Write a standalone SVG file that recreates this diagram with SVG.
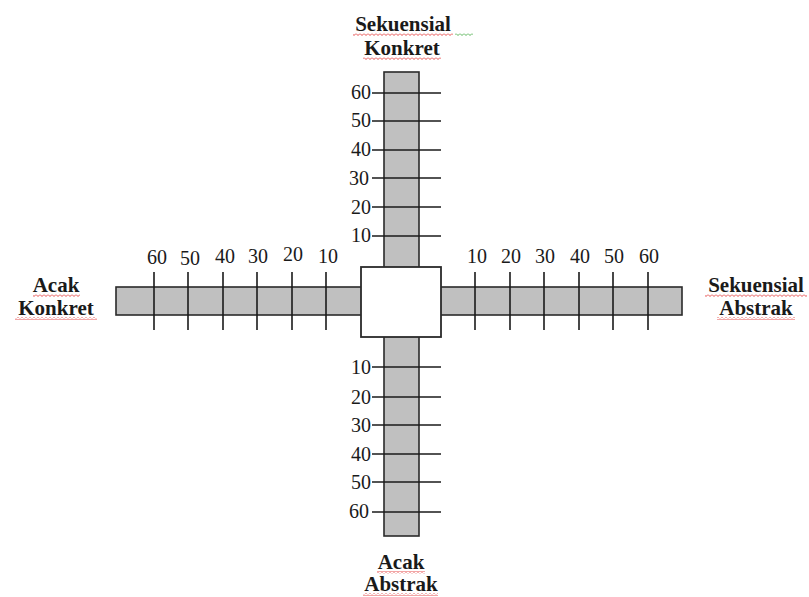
<svg xmlns="http://www.w3.org/2000/svg" width="809" height="597" viewBox="0 0 809 597">
<style>
.bar{fill:#c0c0c0;stroke:#2a2a2a;stroke-width:1.6}
.box{fill:#ffffff;stroke:#2a2a2a;stroke-width:1.8}
.tick{stroke:#1a1a1a;stroke-width:1.6}
.num{font-family:"Liberation Serif",serif;font-size:20px;fill:#1a1a1a}
.lbl{font-family:"Liberation Serif",serif;font-size:21px;font-weight:bold;fill:#1a1a1a;text-anchor:middle}
.sq{fill:url(#squig)}
.sqg{fill:url(#squigG)}
</style>
<defs>
<pattern id="squig" width="4" height="3" patternUnits="userSpaceOnUse">
<path d="M0,0.5 L2,2.5 L4,0.5" fill="none" stroke="#e02020" stroke-width="0.8"/>
</pattern>
<pattern id="squigG" width="4" height="3" patternUnits="userSpaceOnUse">
<path d="M0,0.5 L2,2.5 L4,0.5" fill="none" stroke="#30a030" stroke-width="0.8"/>
</pattern>
</defs>
<g id="bars">
<rect class="bar" x="384" y="72" width="35" height="464"/>
<rect class="bar" x="116" y="287" width="566" height="28"/>
</g>
<g id="ticks">
<line class="tick" x1="372" y1="93" x2="441" y2="93"/>
<line class="tick" x1="372" y1="121" x2="441" y2="121"/>
<line class="tick" x1="372" y1="150" x2="441" y2="150"/>
<line class="tick" x1="372" y1="178" x2="441" y2="178"/>
<line class="tick" x1="372" y1="207" x2="441" y2="207"/>
<line class="tick" x1="372" y1="236" x2="441" y2="236"/>
<line class="tick" x1="372" y1="367" x2="441" y2="367"/>
<line class="tick" x1="372" y1="397" x2="441" y2="397"/>
<line class="tick" x1="372" y1="425" x2="441" y2="425"/>
<line class="tick" x1="372" y1="454" x2="441" y2="454"/>
<line class="tick" x1="372" y1="482" x2="441" y2="482"/>
<line class="tick" x1="372" y1="512" x2="441" y2="512"/>
<line class="tick" x1="154" y1="272" x2="154" y2="330"/>
<line class="tick" x1="188" y1="272" x2="188" y2="330"/>
<line class="tick" x1="223" y1="272" x2="223" y2="330"/>
<line class="tick" x1="257" y1="272" x2="257" y2="330"/>
<line class="tick" x1="292" y1="272" x2="292" y2="330"/>
<line class="tick" x1="326" y1="272" x2="326" y2="330"/>
<line class="tick" x1="475" y1="272" x2="475" y2="330"/>
<line class="tick" x1="510" y1="272" x2="510" y2="330"/>
<line class="tick" x1="544" y1="272" x2="544" y2="330"/>
<line class="tick" x1="579" y1="272" x2="579" y2="330"/>
<line class="tick" x1="613" y1="272" x2="613" y2="330"/>
<line class="tick" x1="648" y1="272" x2="648" y2="330"/>
</g>
<g id="center">
<rect class="box" x="361" y="267" width="80" height="70"/>
</g>
<g id="scale-top" class="num" text-anchor="end">
<text x="371" y="99">60</text>
<text x="371" y="127">50</text>
<text x="371" y="156">40</text>
<text x="369" y="185">30</text>
<text x="371" y="214">20</text>
<text x="371" y="242">10</text>
</g>
<g id="scale-bottom" class="num" text-anchor="end">
<text x="371" y="374">10</text>
<text x="371" y="404">20</text>
<text x="371" y="432">30</text>
<text x="371" y="461">40</text>
<text x="371" y="489">50</text>
<text x="369" y="518">60</text>
</g>
<g id="scale-left" class="num" text-anchor="middle">
<text x="157" y="264">60</text>
<text x="190" y="265">50</text>
<text x="225" y="263">40</text>
<text x="258" y="263">30</text>
<text x="293" y="261">20</text>
<text x="328" y="263">10</text>
</g>
<g id="scale-right" class="num" text-anchor="middle">
<text x="477" y="263">10</text>
<text x="511" y="263">20</text>
<text x="545" y="263">30</text>
<text x="580" y="263">40</text>
<text x="614" y="263">50</text>
<text x="649" y="263">60</text>
</g>
<g id="label-top">
<text class="lbl" x="403" y="31">Sekuensial</text>
<text class="lbl" x="402" y="55">Konkret</text>
<rect class="sq" x="353" y="33" width="100" height="3"/>
<rect class="sqg" x="455" y="33" width="18" height="3"/>
<rect class="sq" x="363" y="57" width="78" height="3"/>
</g>
<g id="label-left">
<text class="lbl" x="56" y="292">Acak</text>
<text class="lbl" x="56" y="315">Konkret</text>
<rect class="sq" x="33" y="294" width="47" height="3"/>
<rect class="sq" x="15" y="317" width="82" height="3"/>
</g>
<g id="label-right">
<text class="lbl" x="756" y="292">Sekuensial</text>
<text class="lbl" x="756" y="315">Abstrak</text>
<rect class="sq" x="705" y="294" width="102" height="3"/>
<rect class="sq" x="717" y="317" width="78" height="3"/>
</g>
<g id="label-bottom">
<text class="lbl" x="401" y="569">Acak</text>
<text class="lbl" x="401" y="591">Abstrak</text>
<rect class="sq" x="377" y="571" width="48" height="3"/>
<rect class="sq" x="363" y="593" width="75" height="3"/>
</g>
</svg>
